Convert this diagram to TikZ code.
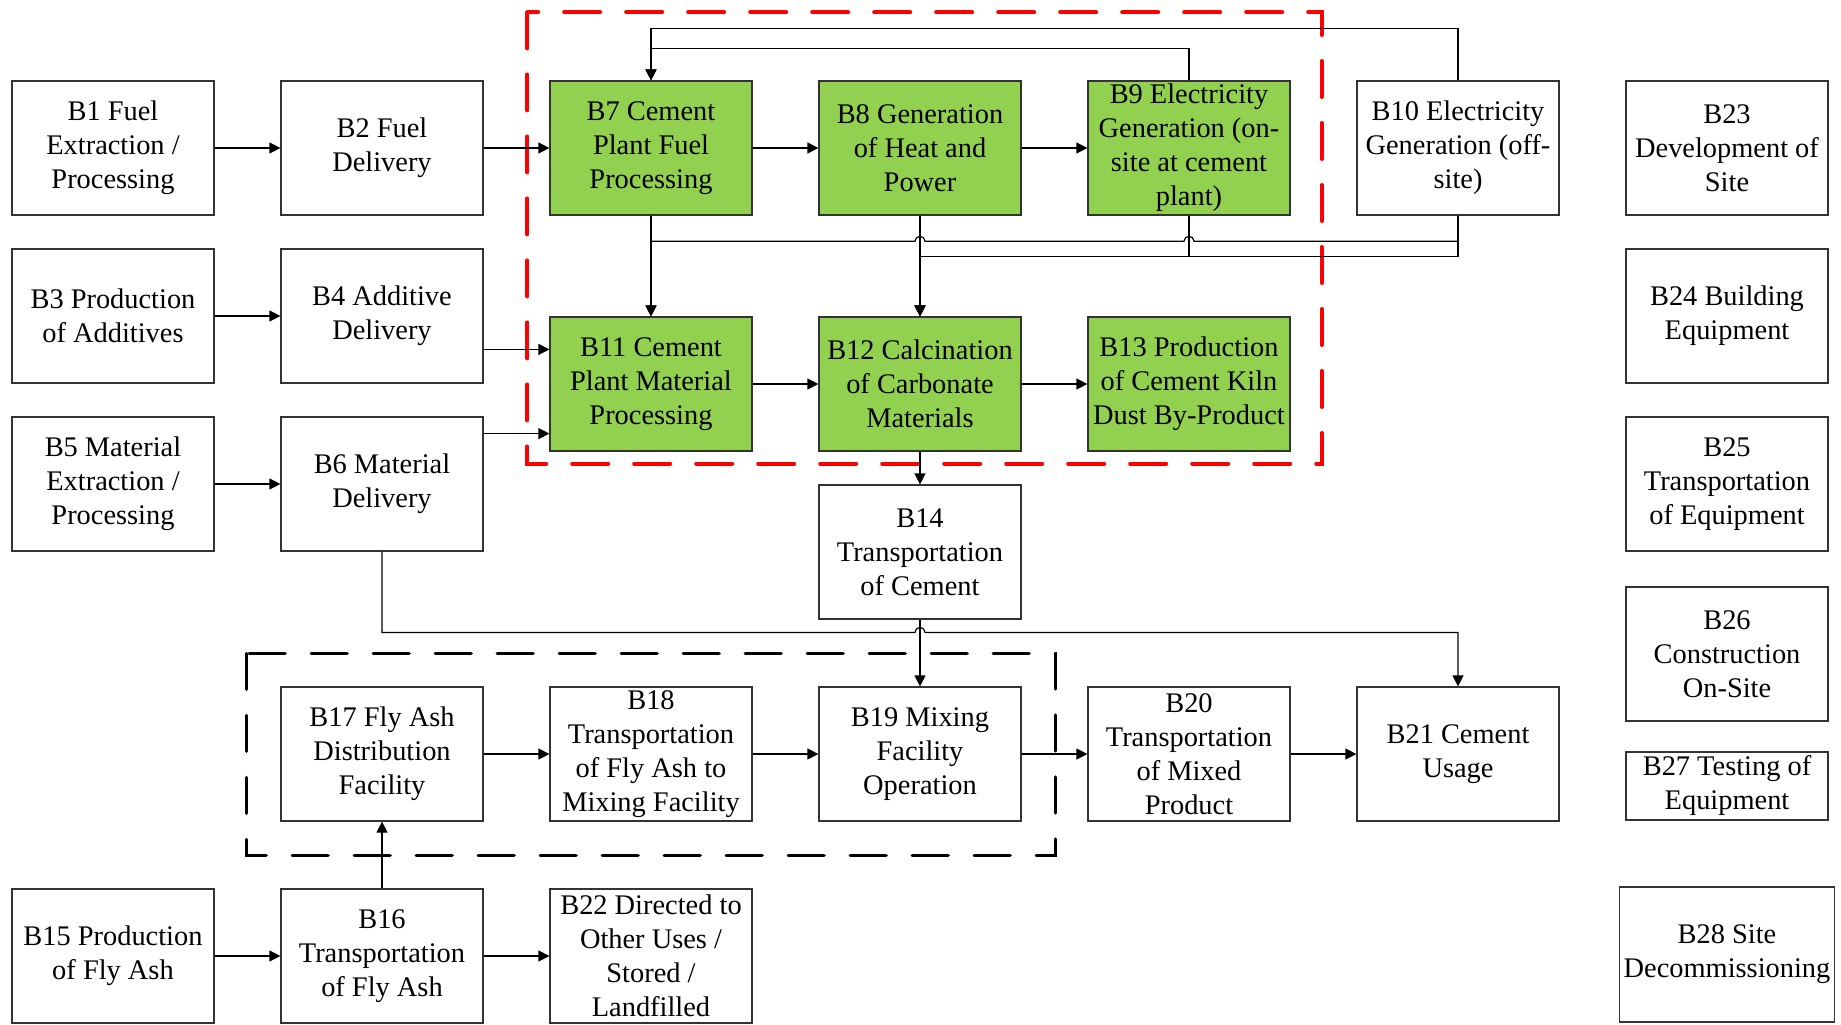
\documentclass[tikz,border=0pt]{standalone}
\usepackage{fontspec}
\setmainfont{Liberation Serif}
\usetikzlibrary{arrows.meta,positioning,calc}
\definecolor{procgreen}{RGB}{146,208,80}
\tikzset{
  >={Triangle[length=5.5pt,width=5.5pt]},
  font=\fontsize{14.2pt}{17pt}\selectfont,
  blk/.style ={draw=black!80, line width=0.6pt, minimum height=67pt, minimum width=101pt, inner sep=1pt, align=center, fill=white},
  grn/.style ={blk, fill=procgreen},
  half/.style={blk, minimum height=34pt},
  arr/.style ={->, line width=0.6pt},
  ln/.style  ={line width=0.6pt},
  rbox/.style={draw=red, line width=2pt, dash pattern=on 18pt off 13pt, line cap=round},
  kbox/.style={draw=black, line width=1.6pt, dash pattern=on 18pt off 13pt, line cap=round},
}

\begin{document}
\begin{tikzpicture}[node distance=16.4pt and 32.9pt]
  \useasboundingbox (-56.5pt,-438pt) rectangle (864pt,74pt);
  % first row
  \node[blk] (b1) {B1 Fuel\\Extraction /\\Processing};
  \node[blk, right=of b1] (b2) {B2 Fuel\\Delivery};
  \node[grn, right=of b2] (b7) {B7 Cement\\Plant Fuel\\Processing};
  \node[grn, right=of b7] (b8) {B8 Generation\\of Heat and\\Power};
  \node[grn, right=of b8] (b9) {B9 Electricity\\Generation (on-\\site at cement\\plant)};
  \node[blk, right=of b9] (b10) {B10 Electricity\\Generation (off-\\site)};
  \node[blk, right=of b10] (b23) {B23\\Development of\\Site};
  % inputs on the left
  \node[blk, below=of b1] (b3) {B3 Production\\of Additives};
  \node[blk, right=of b3] (b4) {B4 Additive\\Delivery};
  \node[blk, below=of b3] (b5) {B5 Material\\Extraction /\\Processing};
  \node[blk, right=of b5] (b6) {B6 Material\\Delivery};
  % cement plant
  \node[grn, below=50.4pt of b7] (b11) {B11 Cement\\Plant Material\\Processing};
  \node[grn, right=of b11] (b12) {B12 Calcination\\of Carbonate\\Materials};
  \node[grn, right=of b12] (b13) {B13 Production\\of Cement Kiln\\Dust By-Product};
  \node[blk, below=of b12] (b14) {B14\\Transportation\\of Cement};
  % mixing row
  \node[blk, below=33.4pt of b14] (b19) {B19 Mixing\\Facility\\Operation};
  \node[blk, left=of b19] (b18) {B18\\Transportation\\of Fly Ash to\\Mixing Facility};
  \node[blk, left=of b18] (b17) {B17 Fly Ash\\Distribution\\Facility};
  \node[blk, right=of b19] (b20) {B20\\Transportation\\of Mixed\\Product};
  \node[blk, right=of b20] (b21) {B21 Cement\\Usage};
  % fly ash
  \node[blk, below=33.4pt of b17] (b16) {B16\\Transportation\\of Fly Ash};
  \node[blk, left=of b16] (b15) {B15 Production\\of Fly Ash};
  \node[blk, right=of b16] (b22) {B22 Directed to\\Other Uses /\\Stored /\\Landfilled};
  % site column
  \node[blk, below=of b23] (b24) {B24 Building\\Equipment};
  \node[blk, below=of b24] (b25) {B25\\Transportation\\of Equipment};
  \node[blk, below=17.4pt of b25] (b26) {B26\\Construction\\On-Site};
  \node[half, below=14.9pt of b26] (b27) {B27 Testing of\\Equipment};
  \node[blk, below=32.9pt of b27, minimum width=107.5pt, minimum height=67.5pt] (b28) {B28 Site\\Decommissioning};

  % boundaries
  \draw[rbox] ($(b7.north west)+(-11pt,34pt)$) rectangle ($(b13.south east)+(15.5pt,-6pt)$);
  \draw[kbox] ($(b17.north west)+(-17pt,16.5pt)$) rectangle ($(b19.south east)+(17pt,-17pt)$);

  % straight flows
  \draw[arr] (b1) -- (b2);
  \draw[arr] (b2) -- (b7);
  \draw[arr] (b3) -- (b4);
  \draw[arr] (b5) -- (b6);
  \draw[arr] (b7) -- (b8);
  \draw[arr] (b8) -- (b9);
  \draw[arr] (b11) -- (b12);
  \draw[arr] (b12) -- (b13);
  \draw[arr] (b12) -- (b14);
  \draw[arr] (b14) -- (b19);
  \draw[arr] (b17) -- (b18);
  \draw[arr] (b18) -- (b19);
  \draw[arr] (b19) -- (b20);
  \draw[arr] (b20) -- (b21);
  \draw[arr] (b15) -- (b16);
  \draw[arr] (b16) -- (b22);
  \draw[arr] (b16) -- (b17);

  % deliveries into B11
  \coordinate (in1) at ($(b11.north west)+(0,-16.5pt)$);
  \coordinate (in2) at ($(b11.south west)+(0,9pt)$);
  \draw[arr] (b4.east |- in1) -- (in1);
  \draw[arr] (b6.east |- in2) -- (in2);

  % electricity back to B7
  \draw[arr] (b10.north) -- ++(0,25.8pt) -| (b7.north);
  \draw[arr] (b9.north) -- ++(0,15.9pt) -| (b7.north);

  % energy down to B11 and B12
  \coordinate (busa) at ($(b7.south)+(0,-12.85pt)$);
  \coordinate (busb) at ($(b8.south)+(0,-20.5pt)$);
  \draw[arr] (b7) -- (b11);
  \draw[arr] (b8) -- (b12);
  \draw[arr] (b10.south) |- ($(b9.south |- busa)+(2.5pt,0)$)
    arc[start angle=0, end angle=180, radius=2.5pt]
    -- ($(b8.south |- busa)+(2.5pt,0)$)
    arc[start angle=0, end angle=180, radius=2.5pt]
    -- (busa) -- (b11.north);
  \draw[arr] (b9.south) |- (busb) -- (b12.north);
  \draw[arr] (b10.south) |- (busb) -- (b12.north);

  % material to cement usage
  \coordinate (busc) at ($(b6.south)+(0,-40.4pt)$);
  \draw[arr] (b6.south) |- ($(b14.south |- busc)+(-2.5pt,0)$)
    arc[start angle=180, end angle=0, radius=2.5pt] -| (b21.north);
\end{tikzpicture}
\end{document}
